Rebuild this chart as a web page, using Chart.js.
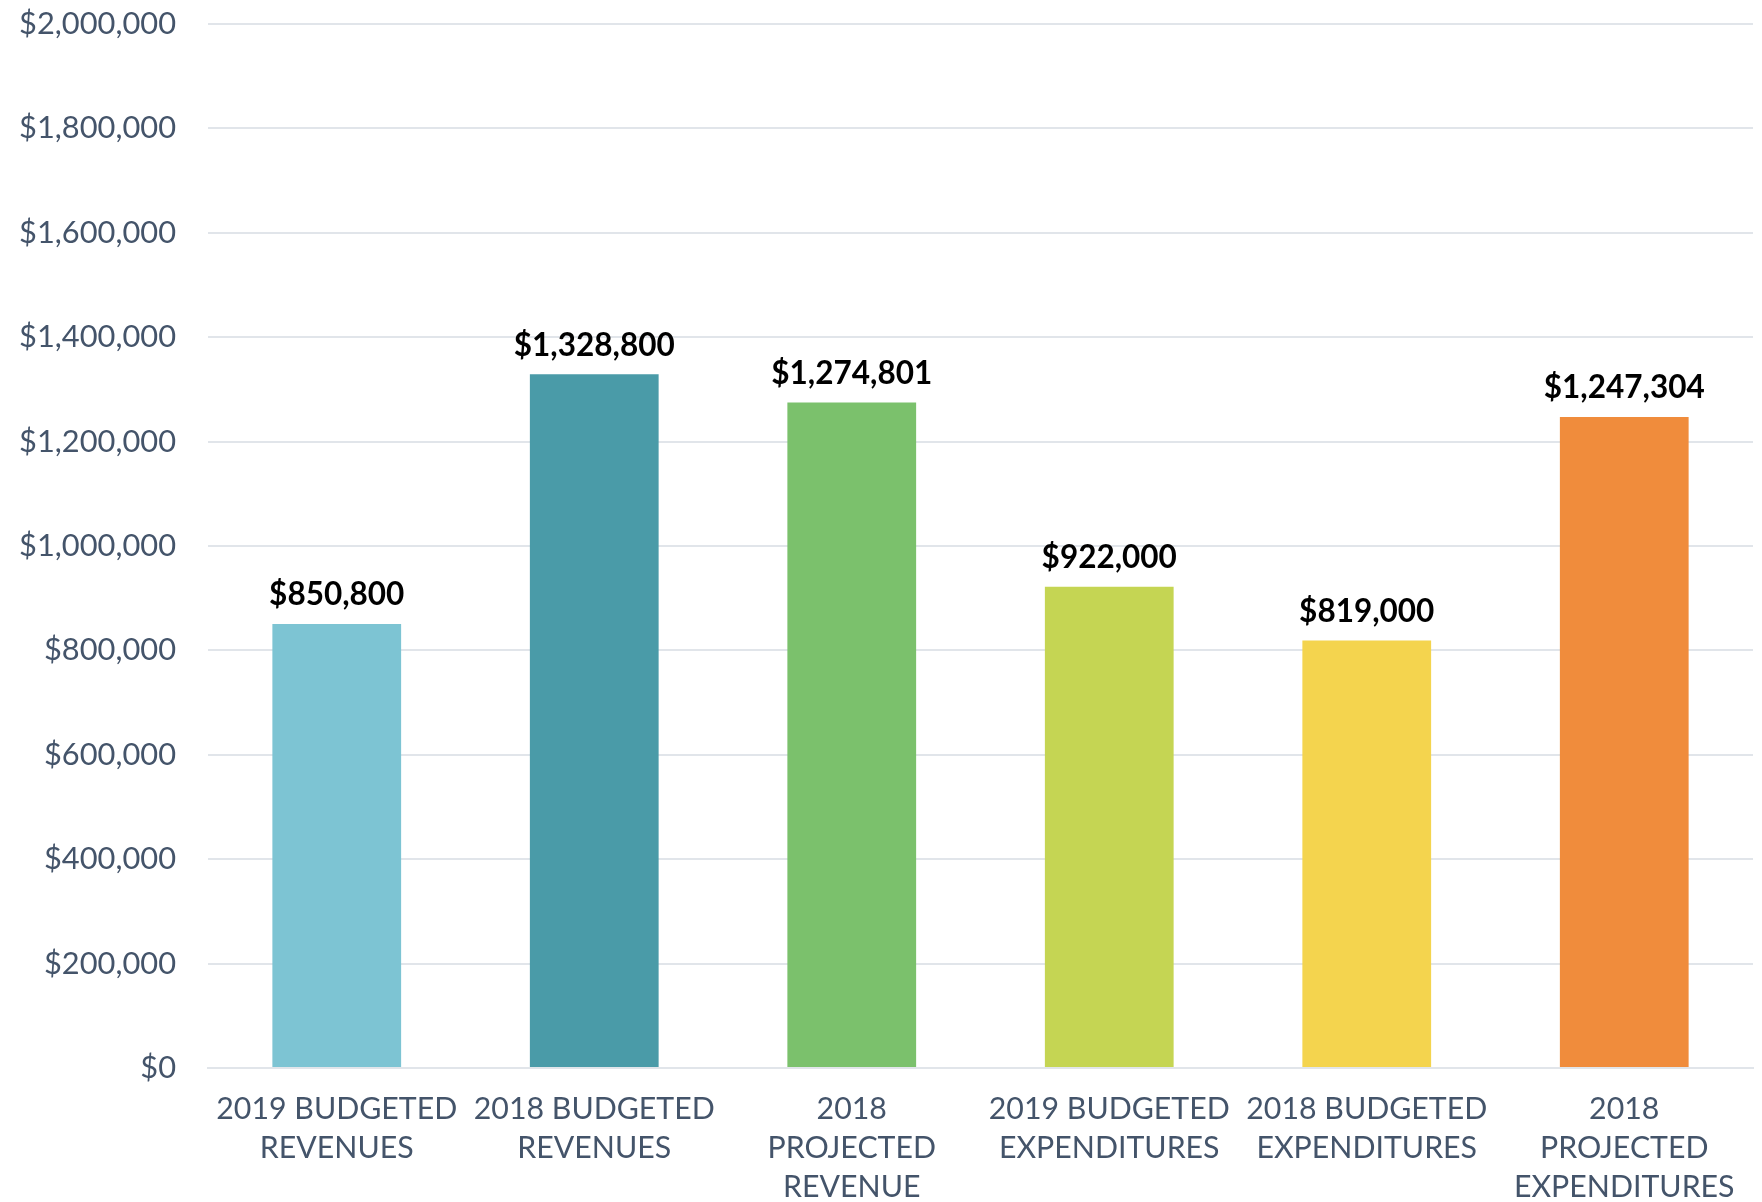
<!DOCTYPE html>
<html>
<head>
<meta charset="utf-8">
<script src="https://cdn.jsdelivr.net/npm/chart.js@4/dist/chart.umd.min.js"></script>
<style>
  html, body { margin: 0; padding: 0; background: #fff; }
  #wrap { width: 1762px; height: 1202px; }
</style>
</head>
<body>
<div id="wrap"><canvas id="budgetChart"></canvas></div>
<script>
// chart data
const categories = [
  ['2019 BUDGETED', 'REVENUES'],
  ['2018 BUDGETED', 'REVENUES'],
  ['2018', 'PROJECTED', 'REVENUE'],
  ['2019 BUDGETED', 'EXPENDITURES'],
  ['2018 BUDGETED', 'EXPENDITURES'],
  ['2018', 'PROJECTED', 'EXPENDITURES']
];
const amounts = [850800, 1328800, 1274801, 922000, 819000, 1247304];
const barColors = ['#7dc4d3', '#4a9ba8', '#7bc16c', '#c5d553', '#f4d44e', '#f08c3c'];
const yMax = 2000000;
const yStep = 200000;

const money = v => '$' + Number(v).toLocaleString('en-US');

// value labels above each bar
const valueLabels = {
  id: 'valueLabels',
  afterDatasetsDraw(chart) {
    const ctx = chart.ctx;
    const meta = chart.getDatasetMeta(0);
    ctx.save();
    ctx.font = 'bold 31.5px Lato';
    ctx.fillStyle = '#000';
    ctx.textAlign = 'center';
    ctx.textBaseline = 'middle';
    meta.data.forEach((bar, i) => {
      ctx.fillText(money(amounts[i]), bar.x, bar.y - 29);
    });
    ctx.restore();
  }
};

const ctx = document.getElementById('budgetChart').getContext('2d');
new Chart(ctx, {
  type: 'bar',
  data: {
    labels: categories,
    datasets: [{
      data: amounts,
      backgroundColor: barColors,
      borderWidth: 0,
      barPercentage: 0.5,
      categoryPercentage: 1
    }]
  },
  options: {
    responsive: true,
    maintainAspectRatio: false,
    animation: false,
    layout: { padding: { top: 0, right: 9, left: 0, bottom: 0 } },
    plugins: {
      legend: { display: false },
      tooltip: { enabled: false }
    },
    scales: {
      x: {
        grid: { display: false, drawTicks: false },
        border: { display: true, color: '#e1e5ea', width: 2 },
        ticks: {
          color: '#44546a',
          font: { family: 'Lato', size: 30.3, lineHeight: 1.28 },
          padding: 22,
          maxRotation: 0,
          autoSkip: false
        },
        afterFit: s => { s.height = 134; }
      },
      y: {
        min: 0,
        max: yMax,
        grid: { color: '#e1e5ea', lineWidth: 2, drawTicks: false },
        border: { display: false },
        ticks: {
          stepSize: yStep,
          color: '#44546a',
          font: { family: 'Lato', size: 30.8 },
          padding: 32,
          callback: v => money(v)
        },
        afterFit: s => {
          s.width = 208;
          s.paddingTop = 24;
          s.paddingBottom = 0;
        }
      }
    }
  },
  plugins: [valueLabels]
});
</script>
</body>
</html>
